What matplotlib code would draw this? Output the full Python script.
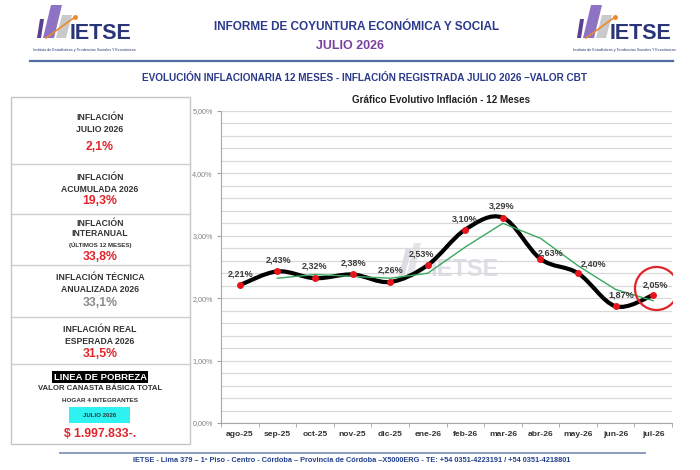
import matplotlib
matplotlib.use('Agg')
import matplotlib.pyplot as plt
from matplotlib.path import Path
from matplotlib.patches import PathPatch, Rectangle, Polygon
from matplotlib.transforms import offset_copy
import numpy as np

plt.rcParams['font.family'] = ['Liberation Sans', 'DejaVu Sans']

# ---------------- data ----------------
months = ['ago-25', 'sep-25', 'oct-25', 'nov-25', 'dic-25', 'ene-26',
          'feb-26', 'mar-26', 'abr-26', 'may-26', 'jun-26', 'jul-26']
inflation = [2.21, 2.43, 2.32, 2.38, 2.26, 2.53, 3.10, 3.29, 2.63, 2.40, 1.87, 2.05]
trend = [np.nan, 2.32, 2.38, 2.35, 2.32, 2.40, 2.82, 3.20, 2.96, 2.52, 2.14, 1.96]
y_ticks = [0, 1, 2, 3, 4, 5]

panel_titles = [['INFLACIÓN', 'JULIO 2026'],
                ['INFLACIÓN', 'ACUMULADA 2026'],
                ['INFLACIÓN', 'INTERANUAL'],
                ['INFLACIÓN TÉCNICA', 'ANUALIZADA 2026'],
                ['INFLACIÓN REAL', 'ESPERADA 2026']]
panel_values = ['2,1%', '19,3%', '33,8%', '33,1%', '31,5%']
cbt_value = '$ 1.997.833-.'

# ---------------- figure ----------------
W, H = 700, 470
fig = plt.figure(figsize=(7, 4.7), dpi=100)
fig.patch.set_facecolor('white')

ov = fig.add_axes([0, 0, 1, 1])
ov.set_xlim(0, W)
ov.set_ylim(H, 0)
ov.axis('off')
ov.set_zorder(0)

NAVY = '#2b3a8a'
RED = '#e0242a'
DARK = '#333333'


def logo(dx):
    ov.add_patch(Polygon([(37 + dx, 38), (41 + dx, 38), (44 + dx, 19), (40 + dx, 19)],
                         closed=True, color='#5b3f93', lw=0))
    ov.add_patch(Polygon([(43 + dx, 38), (54 + dx, 38), (62 + dx, 5), (51 + dx, 5)],
                         closed=True, color='#8e72c4', lw=0))
    ov.add_patch(Polygon([(56 + dx, 38), (66 + dx, 38), (72 + dx, 15), (62 + dx, 15)],
                         closed=True, color='#c9c9cc', lw=0))
    ov.plot([46 + dx, 75 + dx], [38, 17], color='#e88a2e', lw=1.2)
    ov.plot([75 + dx], [17], 'o', color='#e88a2e', ms=2.5)
    ov.text(70 + dx, 39, 'IETSE', fontsize=15.5, fontweight='bold', color='#2a3578',
            ha='left', va='baseline')
    ov.text(84 + dx, 50, 'Instituto de Estadísticas y Tendencias Sociales Y Económicas',
            fontsize=2.7, color='#2a3578', ha='center', va='center')


logo(0)
logo(540)

ov.text(357, 27, 'INFORME DE COYUNTURA ECONÓMICA Y SOCIAL', fontsize=8.5, fontweight='bold',
        color=NAVY, ha='center', va='center')
ov.text(350, 46, 'JULIO 2026', fontsize=9, fontweight='bold', color='#7b3fa0',
        ha='center', va='center')
ov.plot([30, 673], [60.5, 60.5], color='#4f6ea3', lw=1.6)
ov.text(365, 78, 'EVOLUCIÓN INFLACIONARIA 12 MESES - INFLACIÓN REGISTRADA JULIO 2026 –VALOR CBT',
        fontsize=7.2, fontweight='bold', color=NAVY, ha='center', va='center')

# left panel
ov.add_patch(Rectangle((11, 97), 179, 347, fill=False, ec='#c6c6c6', lw=1))
for yy in [164, 214, 265, 317, 364]:
    ov.plot([11, 190], [yy, yy], color='#cfcfcf', lw=1)
cx = 100
title_y = [[118, 129], [178, 189], [223, 234], [278, 290], [329, 341]]
value_y = [147, 201, 257, 303, 354]
for i in range(5):
    for t, yy in zip(panel_titles[i], title_y[i]):
        ov.text(cx, yy, t, fontsize=6.2, fontweight='bold', color=DARK, ha='center', va='center')
    col = '#8a8a8a' if i == 3 else RED
    ov.text(cx, value_y[i], panel_values[i], fontsize=8.8, fontweight='bold', color=col,
            ha='center', va='center')
ov.text(cx, 245, '(ÚLTIMOS 12 MESES)', fontsize=4.4, fontweight='bold', color=DARK,
        ha='center', va='center')
ov.text(cx, 377, 'LINEA DE POBREZA', fontsize=6.8, fontweight='bold', color='white',
        ha='center', va='center',
        bbox=dict(boxstyle='square,pad=0.15', fc='black', ec='none'))
ov.text(cx, 388.5, 'VALOR CANASTA BÁSICA TOTAL', fontsize=5.6, fontweight='bold', color=DARK,
        ha='center', va='center')
ov.text(cx, 401, 'HOGAR 4 INTEGRANTES', fontsize=4.6, fontweight='bold', color=DARK,
        ha='center', va='center')
ov.add_patch(Rectangle((69, 407), 61, 16, color='#2ef2f2', lw=0))
ov.text(cx, 415.5, 'JULIO 2026', fontsize=4.4, fontweight='bold', color=DARK,
        ha='center', va='center')
ov.text(cx, 434, cbt_value, fontsize=8.8, fontweight='bold', color=RED,
        ha='center', va='center')

# chart title
ov.text(441, 100, 'Gráfico Evolutivo Inflación - 12 Meses', fontsize=7.1, fontweight='bold',
        color='#222222', ha='center', va='center')

# watermark
ov.add_patch(Polygon([(398, 278), (404, 278), (412, 248), (406, 248)], closed=True,
                     color='#dcdce6', lw=0, zorder=0))
ov.add_patch(Polygon([(406, 278), (413, 278), (421, 243), (414, 243)], closed=True,
                     color='#e4e4ea', lw=0, zorder=0))
ov.text(465, 269, 'IETSE', fontsize=17, fontweight='bold', color='#dedee6',
        ha='center', va='center', zorder=0)

# footer
ov.plot([60, 645], [452.5, 452.5], color='#8a9cc0', lw=1.4)
ov.text(352, 460, 'IETSE - Lima 379 – 1º Piso - Centro - Córdoba – Provincia de Córdoba –X5000ERG - '
        'TE: +54 0351-4223191 / +54 0351-4218801',
        fontsize=5.3, fontweight='bold', color='#23408e', ha='center', va='center')

# ---------------- chart ----------------
ax = fig.add_axes([221 / W, 1 - 423 / H, 451 / W, 312 / H])
ax.set_zorder(2)
ax.patch.set_alpha(0)
x = np.arange(len(months))
ax.set_xlim(-0.5, len(months) - 0.5)
ax.set_ylim(0, 5)

ax.set_yticks(y_ticks)
ax.set_yticklabels([f'{v:.2f}%'.replace('.', ',') for v in y_ticks])
ax.set_yticks(np.arange(0, 5.01, 0.2), minor=True)
ax.yaxis.grid(True, which='both', color='#d9d9d9', lw=0.9)
ax.set_axisbelow(True)
ax.tick_params(axis='y', which='major', length=3, color='#a0a0a0', labelsize=5.2,
               labelcolor='#808080', pad=3)
ax.tick_params(axis='y', which='minor', length=0)

ax.set_xticks(x)
ax.set_xticklabels(months)
ax.set_xticks(np.arange(-0.5, len(months), 1), minor=True)
ax.tick_params(axis='x', which='major', length=0, labelsize=6.1, labelcolor='#333333', pad=6)
ax.tick_params(axis='x', which='minor', length=3, color='#a0a0a0')
for lab in ax.get_xticklabels():
    lab.set_fontweight('bold')
for s in ['top', 'right']:
    ax.spines[s].set_visible(False)
for s in ['left', 'bottom']:
    ax.spines[s].set_color('#a8a8a8')
    ax.spines[s].set_linewidth(0.8)


def smooth_path(xs, ys):
    pts = np.column_stack([xs, ys]).astype(float)
    n = len(pts)
    verts = [pts[0]]
    codes = [Path.MOVETO]
    for i in range(n - 1):
        p0 = pts[i - 1] if i > 0 else pts[i]
        p1 = pts[i]
        p2 = pts[i + 1]
        p3 = pts[i + 2] if i + 2 < n else pts[i + 1]
        verts += [p1 + (p2 - p0) / 6, p2 - (p3 - p1) / 6, p2]
        codes += [Path.CURVE4] * 3
    return Path(verts, codes)


ax.add_patch(PathPatch(smooth_path(x, inflation), fill=False, ec='black', lw=3,
                       capstyle='round', joinstyle='round', zorder=3))
ax.plot(x, trend, color='#3aa860', lw=1.0, zorder=4)
ax.plot(x, inflation, 'o', color='#e8141c', ms=5, mec='none', zorder=5)

label_offsets = [(1, 11), (1, 11), (0, 12), (1, 11), (0, 12), (-6, 11),
                 (-1, 11), (-1, 12), (10, 6), (16, 9), (6, 11), (2, 10)]
for xi, v, off in zip(x, inflation, label_offsets):
    ax.annotate(f'{v:.2f}%'.replace('.', ','), (xi, v), xytext=off,
                textcoords='offset pixels', ha='center', va='center',
                fontsize=6.5, fontweight='bold', color='#3a3a3a', zorder=6)

# highlight circle on last value
ax.plot([x[-1]], [inflation[-1]], marker='o', ms=31, mfc='none', mec='#e0242a', mew=1.6,
        transform=offset_copy(ax.transData, fig=fig, x=3, y=7, units='dots'), zorder=6)

fig.savefig('out.png', dpi=100, facecolor='white')
